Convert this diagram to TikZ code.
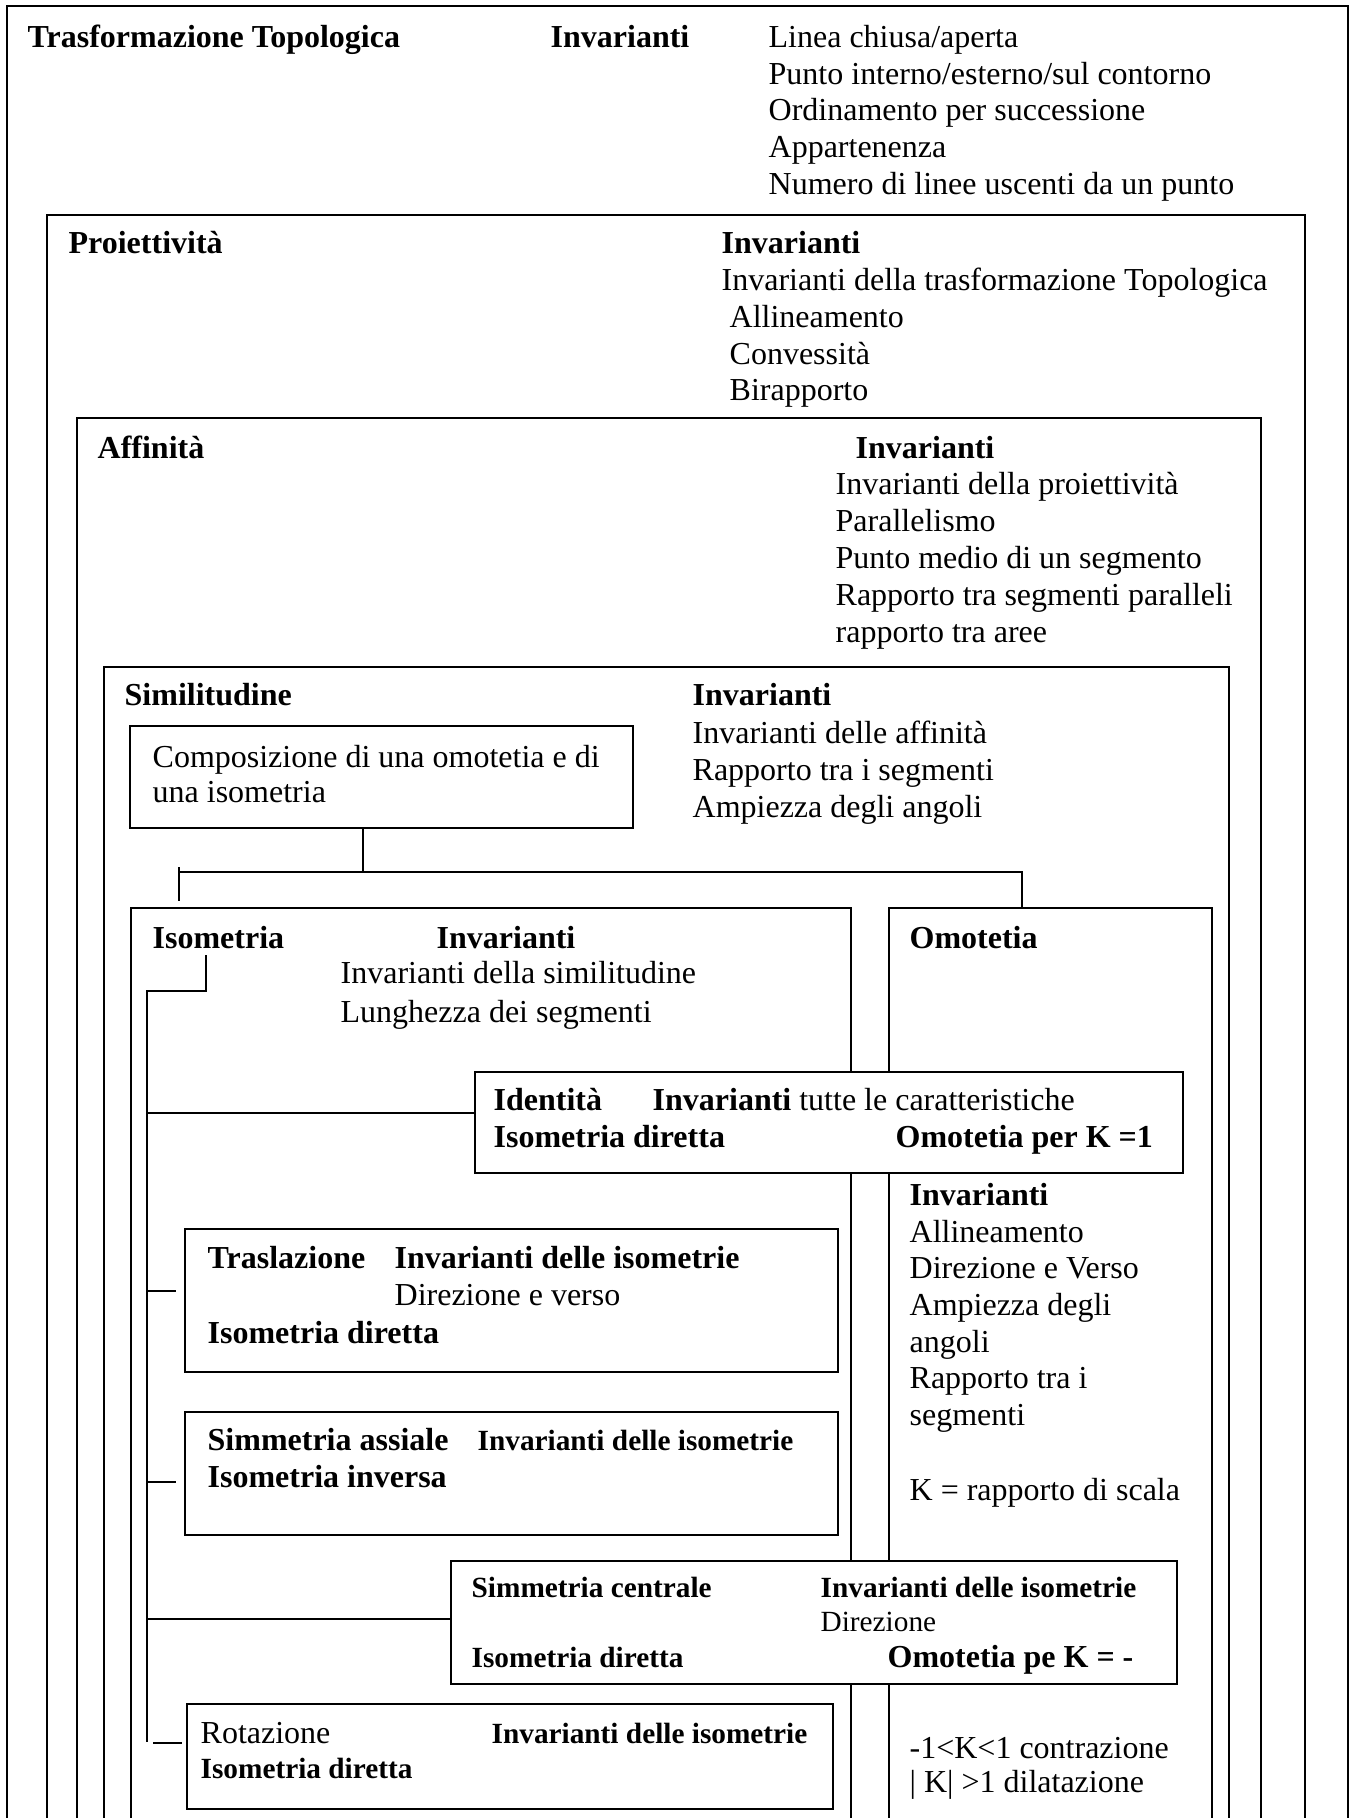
\documentclass[tikz,border=0pt]{standalone}
\usepackage{fontspec}
\setmainfont{Liberation Serif}
\usetikzlibrary{fit}
\begin{document}
\begin{tikzpicture}[x=0.37037pt, y=-0.37037pt, line width=0.5pt,
  txt/.style={anchor=base west, inner sep=0pt, font=\fontsize{11.85}{14}\selectfont},
  bf/.style={txt, font=\fontsize{11.85}{14}\selectfont\bfseries},
  sbf/.style={txt, font=\fontsize{10.85}{13}\selectfont\bfseries},
  srm/.style={txt, font=\fontsize{10.85}{13}\selectfont},
  panel/.style={draw, fill=white, inner sep=0pt}]
\useasboundingbox (0,0) rectangle (1354,1818);

% nested frames, open at the bottom edge
\draw (7,1818) |- (1348,6) -- (1348,1818);
\draw (47,1818) |- (1305,215) -- (1305,1818);
\draw (77,1818) |- (1261,418) -- (1261,1818);
\draw (104,1818) |- (1229,667) -- (1229,1818);
\draw (131,1818) |- (851,908) -- (851,1818);
\draw (889,1818) |- (1212,908) -- (1212,1818);

% --- Trasformazione topologica
\node[bf] (topo) at (27,47) {Trasformazione Topologica};
\node[bf] (topoinv) at (550,47) {Invarianti};
\node[txt] (topo1) at (768,47) {Linea chiusa/aperta};
\node[txt] (topo2) at (768,84) {Punto interno/esterno/sul contorno};
\node[txt] (topo3) at (768,120) {Ordinamento per successione};
\node[txt] (topo4) at (768,157) {Appartenenza};
\node[txt] (topo5) at (768,194) {Numero di linee uscenti da un punto};

% --- Proiettivita
\node[bf] (proi) at (68,253) {Proiettività};
\node[bf] (proiinv) at (721,253) {Invarianti};
\node[txt] (proi1) at (721,290) {Invarianti della trasformazione Topologica};
\node[txt] (proi2) at (729,327) {Allineamento};
\node[txt] (proi3) at (729,364) {Convessità};
\node[txt] (proi4) at (729,400) {Birapporto};

% --- Affinita
\node[bf] (aff) at (97,458) {Affinità};
\node[bf] (affinv) at (855,458) {Invarianti};
\node[txt] (aff1) at (835,494) {Invarianti della proiettività};
\node[txt] (aff2) at (835,531) {Parallelismo};
\node[txt] (aff3) at (835,568) {Punto medio di un segmento};
\node[txt] (aff4) at (835,605) {Rapporto tra segmenti paralleli};
\node[txt] (aff5) at (835,642) {rapporto tra aree};

% --- Similitudine
\node[bf] (sim) at (124,705) {Similitudine};
\node[bf] (siminv) at (692,705) {Invarianti};
\node[txt] (sim1) at (692,743) {Invarianti delle affinità};
\node[txt] (sim2) at (692,780) {Rapporto tra i segmenti};
\node[txt] (sim3) at (692,817) {Ampiezza degli angoli};

\node[panel, fit={(130,726) (633,828)}] (comp) {};
\node[txt] (comp1) at (152,767) {Composizione di una omotetia e di};
\node[txt] (comp2) at (152,802) {una isometria};

% split towards isometria and omotetia
\coordinate (jc) at (363,872);
\coordinate (jl) at (179,872);
\coordinate (jr) at (1022,872);
\coordinate (jltop) at (179,867);
\coordinate (jlend) at (179,901);
\coordinate (omotop) at (1022,908);
\draw (comp.south -| jc) -- (jc);
\draw (jl) -- (jr) -- (omotop);
\draw (jltop) -- (jlend);

% --- Isometria
\node[bf] (iso) at (152,948) {Isometria};
\node[bf] (isoinv) at (436,948) {Invarianti};
\node[txt] (iso1) at (340,983) {Invarianti della similitudine};
\node[txt] (iso2) at (340,1022) {Lunghezza dei segmenti};

% --- Omotetia
\node[bf] (omo) at (909,948) {Omotetia};
\node[bf] (omoinv) at (909,1205) {Invarianti};
\node[txt] (omo1) at (909,1242) {Allineamento};
\node[txt] (omo2) at (909,1278) {Direzione e Verso};
\node[txt] (omo3) at (909,1315) {Ampiezza degli};
\node[txt] (omo4) at (909,1352) {angoli};
\node[txt] (omo5) at (909,1388) {Rapporto tra i};
\node[txt] (omo6) at (909,1425) {segmenti};
\node[txt] (omo7) at (909,1500) {K = rapporto di scala};
\node[txt] (omo8) at (909,1758) {-1<K<1 contrazione};
\node[txt] (omo9) at (909,1792) {| K| >1 dilatazione};

% tree of the isometries
\coordinate (isohook) at (206,955);
\coordinate (trunk) at (147,991);
\coordinate (trunkend) at (147,1742);
\draw (isohook) |- (trunk) -- (trunkend);

% Identita
\node[panel, fit={(475,1072) (1183,1173)}] (iden) {};
\node[bf] (iden1) at (493,1110) {Identità};
\node[txt] (iden2) at (652,1110) {\textbf{Invarianti} tutte le caratteristiche};
\node[bf] (iden3) at (493,1147) {Isometria diretta};
\node[bf] (iden4) at (895,1147) {Omotetia per K =1};
\coordinate (b1) at (147,1113);
\draw (b1) -- (b1 -| iden.west);

% Traslazione
\node[panel, fit={(185,1229) (838,1372)}] (tras) {};
\node[bf] (tras1) at (207,1268) {Traslazione};
\node[bf] (tras2) at (394,1268) {Invarianti delle isometrie};
\node[txt] (tras3) at (394,1305) {Direzione e verso};
\node[bf] (tras4) at (207,1343) {Isometria diretta};
\coordinate (b2) at (147,1291);
\coordinate (b2e) at (176,1291);
\draw (b2) -- (b2e);

% Simmetria assiale
\node[panel, fit={(185,1412) (838,1535)}] (assi) {};
\node[bf] (assi1) at (207,1450) {Simmetria assiale};
\node[sbf] (assi2) at (477,1450) {Invarianti delle isometrie};
\node[bf] (assi3) at (207,1487) {Isometria inversa};
\coordinate (b3) at (147,1482);
\coordinate (b3e) at (176,1482);
\draw (b3) -- (b3e);

% Simmetria centrale
\node[panel, fit={(451,1561) (1177,1684)}] (cent) {};
\node[sbf] (cent1) at (471,1597) {Simmetria centrale};
\node[sbf] (cent2) at (820,1597) {Invarianti delle isometrie};
\node[srm] (cent3) at (820,1631) {Direzione};
\node[sbf] (cent4) at (471,1667) {Isometria diretta};
\node[bf] (cent5) at (887,1667) {Omotetia pe K = -};
\coordinate (b4) at (147,1619);
\draw (b4) -- (b4 -| cent.west);

% Rotazione
\node[panel, fit={(187,1704) (833,1809)}] (rot) {};
\node[txt] (rot1) at (200,1743) {Rotazione};
\node[sbf] (rot2) at (491,1743) {Invarianti delle isometrie};
\node[sbf] (rot3) at (200,1778) {Isometria diretta};
\coordinate (b5) at (153,1743);
\coordinate (b5e) at (182,1743);
\draw (b5) -- (b5e);
\end{tikzpicture}
\end{document}
